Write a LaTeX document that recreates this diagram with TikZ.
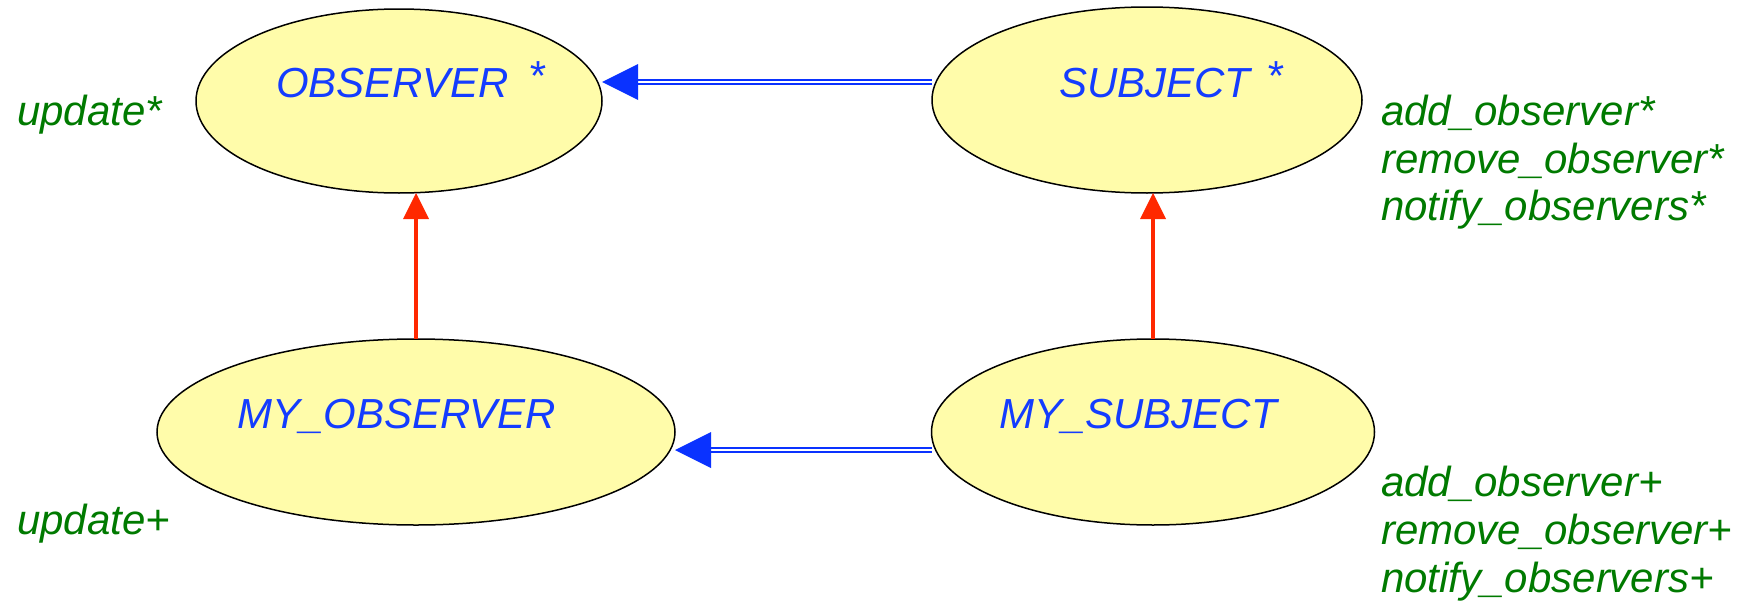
\documentclass[tikz,border=0pt]{standalone}
\usepackage{fontspec}
\setmainfont{Liberation Sans}
\usetikzlibrary{shapes.geometric,calc}
\definecolor{classfill}{RGB}{255,252,170}
\definecolor{nameblue}{RGB}{20,60,255}
\definecolor{linkblue}{RGB}{10,50,255}
\definecolor{heirred}{RGB}{255,40,0}
\definecolor{featgreen}{RGB}{0,122,0}
\begin{document}
\begin{tikzpicture}[x=1pt,y=-1pt,
  cls/.style={ellipse, draw=black, line width=1.5pt, fill=classfill, inner sep=0pt, outer sep=0pt},
  clsname/.style={anchor=base west, inner sep=0pt, text=nameblue, font=\fontsize{42}{48}\selectfont\itshape},
  feat/.style={anchor=base west, inner sep=0pt, text=featgreen, font=\fontsize{42}{48}\selectfont\itshape},
  client/.style={draw=linkblue, line width=2.2pt, double=white, double distance=2.4pt},
  inherit/.style={draw=heirred, line width=4pt}]
\useasboundingbox (0,0) rectangle (1754,605);

% classes
\node[cls, minimum width=406pt, minimum height=184pt] (obs) at (399,101) {};
\node[cls, minimum width=430pt, minimum height=186pt] (sub) at (1147,100) {};
\node[cls, minimum width=518pt, minimum height=186pt] (mobs) at (416,432) {};
\node[cls, minimum width=443pt, minimum height=186pt] (msub) at (1153,432) {};

% class names (deferred classes carry a raised star)
\node[clsname] (obsname) at (276,97) {OBSERVER\hspace{8pt} \raisebox{7pt}{*}};
\node[clsname] (subname) at (1059,97) {SUBJECT\hspace{4pt} \raisebox{7pt}{*}};
\node[clsname] (mobsname) at (237,428) {MY\_OBSERVER};
\node[clsname] (msubname) at (999,428) {MY\_SUBJECT};

% features
\node[feat] (f1) at (17,125) {update*};
\node[feat] (f2) at (17,534) {update+};
\node[feat] (f3) at (1381,125) {add\_observer*};
\node[feat] (f4) at (1381,173) {remove\_observer*};
\node[feat] (f5) at (1381,220) {notify\_observers*};
\node[feat] (f6) at (1381,496) {add\_observer+};
\node[feat] (f7) at (1381,544) {remove\_observer+};
\node[feat] (f8) at (1381,592) {notify\_observers+};

% client links
\coordinate (t1) at (obs.east |- 0,82);
\draw[client] (sub.west |- t1) -- ($(t1)+(35,0)$);
\fill[linkblue] (t1) -- ++(36,-18) -- ++(0,36) -- cycle;

\coordinate (t2) at (mobs.east |- 0,450);
\draw[client] (msub.west |- t2) -- ($(t2)+(35,0)$);
\fill[linkblue] (t2) -- ++(36,-18) -- ++(0,36) -- cycle;

% inheritance links
\coordinate (t3) at (mobs.north |- obs.south);
\draw[inherit] (mobs.north) -- ($(t3)+(0,25)$);
\fill[heirred] (t3) -- ++(-13,26) -- ++(26,0) -- cycle;

\coordinate (t4) at (msub.north |- sub.south);
\draw[inherit] (msub.north) -- ($(t4)+(0,25)$);
\fill[heirred] (t4) -- ++(-13,26) -- ++(26,0) -- cycle;
\end{tikzpicture}
\end{document}
